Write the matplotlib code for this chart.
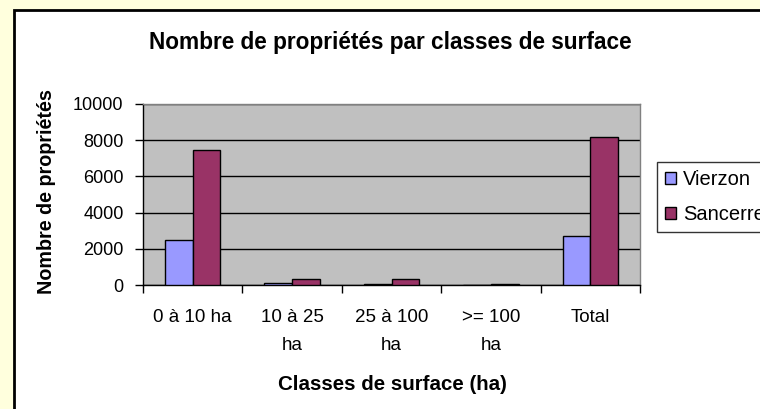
import matplotlib.pyplot as plt
import numpy as np
from matplotlib.patches import Rectangle

plt.rcParams['font.family'] = ['Liberation Sans', 'DejaVu Sans']

classes = ['0 à 10 ha', '10 à 25\nha', '25 à 100\nha', '>= 100\nha', 'Total']
vierzon = [2500, 90, 70, 0, 2700]
sancerre = [7450, 330, 340, 50, 8200]
yticks = [0, 2000, 4000, 6000, 8000, 10000]

W, H = 760, 409
fig = plt.figure(figsize=(W / 100, H / 100), dpi=100)
fig.patch.set_facecolor('#FFFFDD')

# white chart area with a black frame, running off the right and bottom edges
frame = Rectangle((14 / W, -0.1), 1.2, 1 - 10 / H + 0.1, transform=fig.transFigure,
                  facecolor='white', edgecolor='black', linewidth=2, zorder=-1)
fig.patches.append(frame)

ax = fig.add_axes([143 / W, 1 - 285 / H, (640 - 143) / W, (285 - 104) / H])
ax.set_zorder(1)
ax.set_facecolor('#C0C0C0')

x = np.arange(len(classes))
bw = 0.278
ax.bar(x - bw / 2, vierzon, bw, color='#9999FF', edgecolor='black', linewidth=1,
       label='Vierzon', zorder=3)
ax.bar(x + bw / 2, sancerre, bw, color='#993366', edgecolor='black', linewidth=1,
       label='Sancerre', zorder=3)

ax.set_xlim(-0.5, len(classes) - 0.5)
ax.set_ylim(0, 10000)
ax.set_yticks(yticks)
ax.set_yticklabels([str(v) for v in yticks])
ax.yaxis.grid(True, color='black', linewidth=1, zorder=1)
ax.set_axisbelow(True)

# category separators as major ticks, labels on minor ticks at the centres
ax.set_xticks(np.arange(-0.5, len(classes)), labels=[])
ax.set_xticks(x, labels=classes, minor=True)
ax.tick_params(axis='x', which='major', direction='out', length=6, width=1, color='black')
ax.tick_params(axis='x', which='minor', length=0, pad=17, labelsize=13.5)
ax.tick_params(axis='y', direction='out', length=6, width=1, color='black',
               pad=8, labelsize=13)
for lab in ax.get_xticklabels(minor=True):
    lab.set_linespacing(1.9)

for side in ('top', 'right'):
    ax.spines[side].set_color('#808080')
    ax.spines[side].set_linewidth(1)
for side in ('left', 'bottom'):
    ax.spines[side].set_color('black')
    ax.spines[side].set_linewidth(1)

fig.text(390 / W, 1 - 42 / H, 'Nombre de propriétés par classes de surface',
         ha='center', va='center', fontsize=16.3, fontweight='bold')
fig.text(392 / W, 1 - 385 / H, 'Classes de surface (ha)',
         ha='center', va='center', fontsize=14.8, fontweight='bold')
fig.text(47 / W, 1 - 192 / H, 'Nombre de propriétés', rotation=90,
         ha='center', va='center', fontsize=14.2, fontweight='bold')

leg = fig.legend(loc='upper left', bbox_to_anchor=(657 / W, 1 - 162 / H),
                 fontsize=14.5, frameon=True, fancybox=False, shadow=False,
                 handlelength=0.55, handleheight=0.55, handletextpad=0.35,
                 borderpad=0.4, labelspacing=0.8, borderaxespad=0)
leg.get_frame().set_edgecolor('black')
leg.get_frame().set_linewidth(1)
leg.get_frame().set_facecolor('white')

fig.savefig('out.png', dpi=100, facecolor=fig.get_facecolor())
